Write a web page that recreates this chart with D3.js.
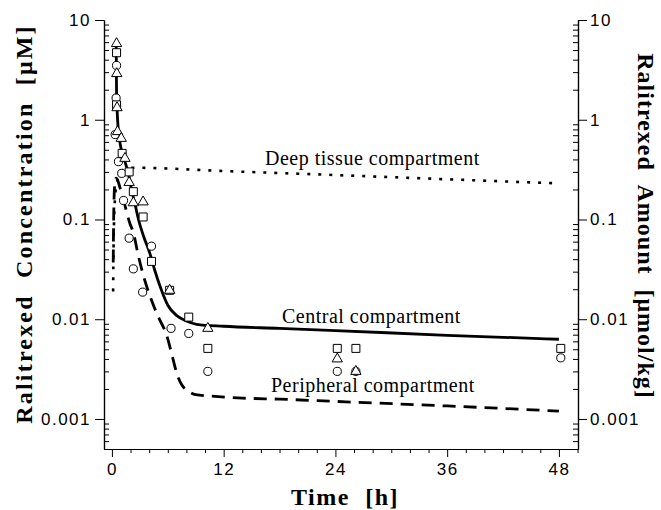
<!DOCTYPE html>
<html>
<head>
<meta charset="utf-8">
<script src="https://cdn.jsdelivr.net/npm/d3@7"></script>
<style>
   body { margin: 0; background: #fff; }
   .tick text { font-family: "Liberation Sans", Arial, sans-serif; font-size: 17px; letter-spacing: 1.5px; }
   .title { font-family: "Liberation Serif", "Times New Roman", serif; font-weight: bold; font-size: 24px; }
   .note { font-family: "Liberation Serif", "Times New Roman", serif; font-size: 20px; letter-spacing: 0.5px; }
</style>
</head>
<body>
<svg id="chart" width="661" height="510"></svg>
<script>
// sampled concentrations [time h, conc uM], one array per symbol
const circles = [
   [0.5, 3.5], [0.45, 1.65], [0.35, 0.71], [0.7, 0.38], [1.05, 0.29], [1.25, 0.155],
   [1.85, 0.065], [2.3, 0.032], [3.3, 0.0187], [4.25, 0.054], [6.35, 0.0081],
   [8.25, 0.0072], [10.3, 0.003], [24.2, 0.003], [26.2, 0.003], [48.2, 0.0041]
];
const squares = [
   [0.5, 4.7], [0.5, 1.41], [1.1, 0.46], [1.85, 0.30], [2.3, 0.19], [3.35, 0.106],
   [4.25, 0.038], [6.2, 0.0195], [8.25, 0.0105], [10.3, 0.0051], [24.2, 0.0051],
   [26.2, 0.0051], [48.2, 0.0051]
];
const triangles = [
   [0.5, 5.8], [0.52, 2.9], [0.55, 1.32], [0.6, 0.76], [1.0, 0.65], [1.4, 0.41],
   [1.85, 0.235], [2.3, 0.147], [3.35, 0.15], [6.2, 0.0195], [10.3, 0.0081],
   [24.2, 0.004], [26.2, 0.003]
];

// model curves [time h, value]
const centralCurve = [
   [0.46, 5.6], [0.48, 3.0], [0.5, 1.8], [0.55, 1.3], [0.68, 0.8], [0.85, 0.6],
   [1.1, 0.46], [1.4, 0.38], [1.8, 0.28], [2.1, 0.2], [2.5, 0.14], [2.85, 0.1],
   [3.4, 0.068], [4.1, 0.045], [4.6, 0.031], [5.2, 0.021], [6.0, 0.0138],
   [7.0, 0.0108], [8.0, 0.0096], [9.1, 0.0089], [12, 0.0085], [18, 0.0081],
   [24, 0.0077], [36, 0.0069], [48, 0.0063]
];
const peripheralCurve = [
   [0.14, 0.037], [0.2, 0.12], [0.3, 0.22], [0.45, 0.26], [0.6, 0.25], [0.86, 0.21],
   [1.3, 0.15], [1.9, 0.093], [2.3, 0.074], [2.8, 0.045], [3.4, 0.027], [4.0, 0.018],
   [4.5, 0.0135], [5.0, 0.0105], [5.9, 0.0068], [6.5, 0.0042], [7.0, 0.0028],
   [7.5, 0.0022], [8.2, 0.0019], [9, 0.00175], [10.5, 0.0017], [14, 0.00162],
   [18, 0.00158], [24, 0.0015], [36, 0.00135], [48, 0.0012]
];
const deepCurve = [
   [0.13, 0.019], [0.16, 0.04], [0.22, 0.09], [0.35, 0.17], [0.6, 0.25], [1.0, 0.3],
   [1.6, 0.325], [2.5, 0.33], [12, 0.306], [24, 0.279], [36, 0.253], [48, 0.23]
];

const xTicks = [0, 12, 24, 36, 48];
const yTicks = [0.001, 0.01, 0.1, 1, 10];
const yLabels = ["0.001", "0.01", "0.1", "1", "10"];

const svg = d3.select("#chart");
const x = d3.scaleLinear().domain([-0.85, 50.05]).range([104, 578]);
const y = d3.scaleLog().domain([0.0005, 10]).range([449, 20]);

// minor ticks
let yMinor = [];
[0.0001, 0.001, 0.01, 0.1, 1].forEach(d => {
   for (let k = 2; k <= 9; k++) {
      const v = d * k;
      if (v >= 0.0005 && v < 10) yMinor.push(v);
   }
});
let xMinor = d3.range(0, 51, 2).filter(v => v % 12 != 0);

function axes() {
   // left
   svg.append("g").attr("transform", "translate(104,0)")
      .call(d3.axisLeft(y).tickValues(yTicks).tickFormat((d, i) => yLabels[i]).tickSize(9).tickSizeOuter(0).tickPadding(4));
   svg.append("g").attr("transform", "translate(104,0)")
      .call(d3.axisLeft(y).tickValues(yMinor).tickFormat("").tickSize(-5).tickSizeOuter(0));
   // right
   svg.append("g").attr("transform", "translate(578,0)")
      .call(d3.axisRight(y).tickValues(yTicks).tickFormat((d, i) => yLabels[i]).tickSize(9).tickSizeOuter(0).tickPadding(3));
   svg.append("g").attr("transform", "translate(578,0)")
      .call(d3.axisRight(y).tickValues(yMinor).tickFormat("").tickSize(-5).tickSizeOuter(0));
   // bottom
   svg.append("g").attr("transform", "translate(0,449)")
      .call(d3.axisBottom(x).tickValues(xTicks).tickSize(8).tickSizeOuter(0).tickPadding(6));
   svg.append("g").attr("transform", "translate(0,449)")
      .call(d3.axisBottom(x).tickValues(xMinor).tickFormat("").tickSize(4).tickSizeOuter(0));
   svg.selectAll(".domain").attr("stroke", "#000").attr("stroke-width", 1.2);
   svg.selectAll(".tick line").attr("stroke", "#000");
   svg.selectAll(".tick text").attr("fill", "#000");
}

function curves() {
   const line = d3.line().x(d => x(d[0])).y(d => y(d[1])).curve(d3.curveMonotoneX);
   svg.append("path").datum(deepCurve).attr("d", line)
      .attr("fill", "none").attr("stroke", "#000").attr("stroke-width", 2.6).attr("stroke-dasharray", "3,8");
   svg.append("path").datum(peripheralCurve).attr("d", line)
      .attr("fill", "none").attr("stroke", "#000").attr("stroke-width", 2.8).attr("stroke-dasharray", "13,8");
   svg.append("path").datum(centralCurve).attr("d", line)
      .attr("fill", "none").attr("stroke", "#000").attr("stroke-width", 2.8);
}

function points() {
   const sets = [
      [circles, d3.symbolCircle, 52],
      [squares, d3.symbolSquare, 64],
      [triangles, d3.symbolTriangle, 46]
   ];
   sets.forEach(([data, type, size]) =>
      svg.append("g").selectAll("path").data(data).join("path")
         .attr("d", d3.symbol().type(type).size(size))
         .attr("transform", d => `translate(${x(d[0])},${y(d[1])})`)
         .attr("fill", "#fff").attr("stroke", "#000").attr("stroke-width", 1)
   );
}

function labels() {
   svg.append("text").attr("class", "title").attr("x", 345).attr("y", 505)
      .attr("text-anchor", "middle").attr("letter-spacing", 1.5).attr("word-spacing", 8).text("Time [h]");
   svg.append("text").attr("class", "title")
      .attr("transform", "translate(32,224) rotate(-90)")
      .attr("text-anchor", "middle").attr("letter-spacing", 2.2).attr("word-spacing", 8)
      .text("Ralitrexed Concentration [μM]");
   svg.append("text").attr("class", "title")
      .attr("transform", "translate(638,226) rotate(90)")
      .attr("text-anchor", "middle").attr("letter-spacing", 1.0).attr("word-spacing", 8)
      .text("Ralitrexed Amount [μmol/kg]");
   svg.append("text").attr("class", "note").attr("x", 265).attr("y", 165).text("Deep tissue compartment");
   svg.append("text").attr("class", "note").attr("x", 282).attr("y", 323).text("Central compartment");
   svg.append("text").attr("class", "note").attr("x", 271).attr("y", 392).text("Peripheral compartment");
}

axes();
curves();
points();
labels();
</script>
</body>
</html>
